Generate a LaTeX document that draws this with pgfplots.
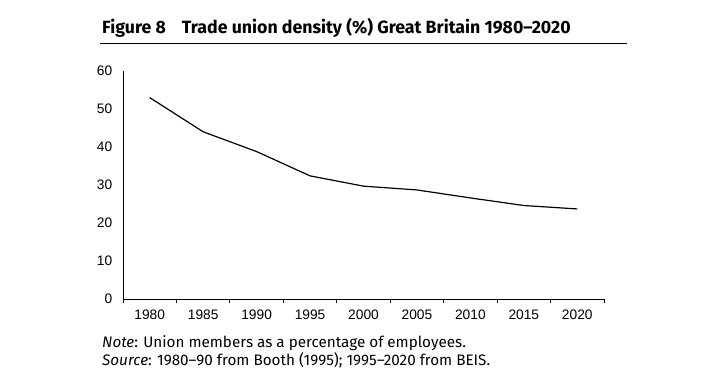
\documentclass[border=0pt]{standalone}
\usepackage{fontspec}
\setmainfont{Fira Sans}
\newfontfamily\arial{Liberation Sans}
\usepackage{pgfplots}
\pgfplotsset{compat=1.18}
\begin{document}
\begin{tikzpicture}[x=1bp,y=1bp]
\path (0,0) rectangle (724,372);
\node[anchor=base west, font=\fontsize{17.8}{20}\selectfont\bfseries, inner sep=0] at (102,339) {Figure 8\hspace{16bp}Trade union density (\%) Great Britain 1980–2020};
\draw[line width=1.6bp] (100,328.5) -- (627,328.5);
\begin{axis}[at={(123bp,73bp)}, anchor=south west, scale only axis,
  width=481bp, height=228bp,
  xmin=-0.5, xmax=8.5, ymin=0, ymax=60,
  axis lines=left, axis line style={-, line width=0.8bp},
  xtick={0,...,8},
  xticklabels={1980,1985,1990,1995,2000,2005,2010,2015,2020},
  major x tick style={draw=none},
  minor xtick={-0.5,0.5,...,8.5},
  minor tick length=4bp,
  minor x tick style={line width=0.8bp, black},
  tick align=outside,
  ytick={0,10,...,60},
  major y tick style={draw=none},
  xticklabel style={font=\arial\fontsize{13.8}{14}\selectfont, yshift=-3bp},
  yticklabel style={font=\arial\fontsize{13.8}{14}\selectfont, xshift=-3bp},
  /pgf/number format/assume math mode=true,
  clip=false]
\addplot[black, line width=1.2bp] coordinates {
(0,53.0) (1,44.0) (2,38.8) (3,32.4) (4,29.7) (5,28.7) (6,26.6) (7,24.6) (8,23.7)};
\end{axis}
\node[anchor=base west, font=\fontsize{15.3}{18}\selectfont, inner sep=0] at (102,25) {\textit{Note}: Union members as a percentage of employees.};
\node[anchor=base west, font=\fontsize{15.3}{18}\selectfont, inner sep=0] at (102,7) {\textit{Source}: 1980–90 from Booth (1995); 1995–2020 from BEIS.};
\end{tikzpicture}
\end{document}
